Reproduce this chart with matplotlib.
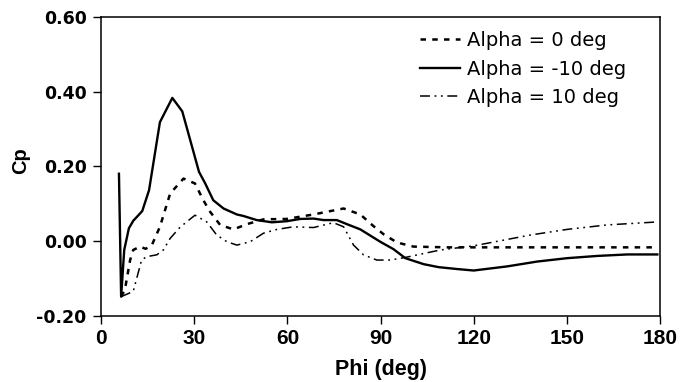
import matplotlib

matplotlib.use("Agg")
import matplotlib.pyplot as plt

plt.rcParams["font.family"] = ["Liberation Sans", "DejaVu Sans"]

# Alpha = 0 deg (dashed)
phi_a0 = [6.4, 7.6, 9.3, 10.3, 12.5, 14.3, 16.3, 18.9, 22.2, 26.5, 30.2, 32.9, 35.1, 38.3,
          42.6, 46.9, 52.3, 59.8, 68.4, 73.8, 78.1, 83.5, 87.7, 91.0, 95.3, 100.6, 111.4,
          130.0, 150.0, 170.0, 179.2]
cp_a0 = [-0.149, -0.131, -0.051, -0.024, -0.015, -0.021, -0.011, 0.038, 0.127, 0.167, 0.154,
         0.109, 0.078, 0.043, 0.031, 0.045, 0.058, 0.059, 0.071, 0.080, 0.087, 0.071, 0.040,
         0.018, -0.004, -0.015, -0.017, -0.017, -0.017, -0.017, -0.017]

# Alpha = -10 deg (solid)
phi_m10 = [5.7, 6.4, 7.4, 8.9, 10.3, 13.2, 15.4, 18.9, 22.9, 26.1, 31.5, 33.5, 36.1, 39.4,
           43.7, 45.8, 50.1, 55.0, 59.8, 64.1, 68.4, 71.6, 75.9, 79.2, 83.5, 89.9, 94.2,
           98.0, 103.9, 108.7, 114.6, 120.0, 130.8, 140.5, 150.1, 159.8, 169.5, 179.2]
cp_m10 = [0.180, -0.149, -0.024, 0.034, 0.054, 0.080, 0.136, 0.318, 0.383, 0.347, 0.185,
          0.154, 0.109, 0.087, 0.071, 0.067, 0.056, 0.050, 0.053, 0.059, 0.060, 0.056, 0.056,
          0.045, 0.031, -0.002, -0.022, -0.046, -0.062, -0.070, -0.075, -0.079, -0.068,
          -0.055, -0.046, -0.040, -0.036, -0.036]

# Alpha = 10 deg (dash-dot-dot)
phi_p10 = [6.4, 10.3, 13.0, 14.6, 17.9, 20.0, 22.2, 25.4, 30.2, 34.0, 37.2, 40.5, 43.7, 48.0,
           52.3, 56.6, 61.9, 68.4, 74.8, 78.1, 81.3, 84.5, 88.8, 93.1, 98.0, 109.3, 120.0,
           138.3, 150.1, 163.0, 179.2]
cp_p10 = [-0.149, -0.135, -0.051, -0.042, -0.037, -0.024, 0.007, 0.037, 0.069, 0.051, 0.016,
          -0.002, -0.011, -0.002, 0.021, 0.031, 0.038, 0.036, 0.049, 0.038, -0.011, -0.037,
          -0.051, -0.051, -0.044, -0.024, -0.013, 0.016, 0.031, 0.043, 0.051]

x_ticks = [0, 30, 60, 90, 120, 150, 180]
y_ticks = [-0.20, 0.00, 0.20, 0.40, 0.60]

fig = plt.figure(figsize=(6.96, 3.82), dpi=100)
ax = fig.add_axes([0.1455, 0.1735, 0.8025, 0.7825])

ax.plot(phi_a0, cp_a0, color="black", lw=1.8, dashes=(2.2, 2.5), label="Alpha = 0 deg")
ax.plot(phi_m10, cp_m10, color="black", lw=1.7, label="Alpha = -10 deg")
ax.plot(phi_p10, cp_p10, color="black", lw=1.1,
        dashes=(6.5, 3.0, 1.2, 3.0, 1.2, 3.0), label="Alpha = 10 deg")

ax.set_xlim(0, 180)
ax.set_ylim(-0.20, 0.60)
ax.set_xticks(x_ticks)
ax.set_yticks(y_ticks)
ax.set_yticklabels([f"{v:.2f}" for v in y_ticks])
ax.tick_params(direction="out", length=5.5, width=1)
ax.tick_params(axis="x", labelsize=15, pad=4)
ax.tick_params(axis="y", labelsize=12.5, pad=5)
for lbl in ax.get_xticklabels():
    lbl.set_fontweight("bold")
for lbl in ax.get_yticklabels():
    lbl.set_fontweight("bold")
    lbl.set_fontfamily("DejaVu Sans")
for s in ax.spines.values():
    s.set_linewidth(1.1)

ax.set_xlabel("Phi (deg)", fontsize=15.5, fontweight="bold", labelpad=8)
ax.set_ylabel("Cp", fontsize=14.5, fontweight="bold")
ax.yaxis.set_label_coords(-0.128, 0.52)

ax.legend(loc="upper left", frameon=False, prop={"family": "DejaVu Sans", "size": 14},
          handlelength=2.06, handletextpad=0.35, labelspacing=0.5,
          borderpad=0, borderaxespad=0, bbox_to_anchor=(0.571, 0.953))

fig.savefig("out.png", dpi=100)
